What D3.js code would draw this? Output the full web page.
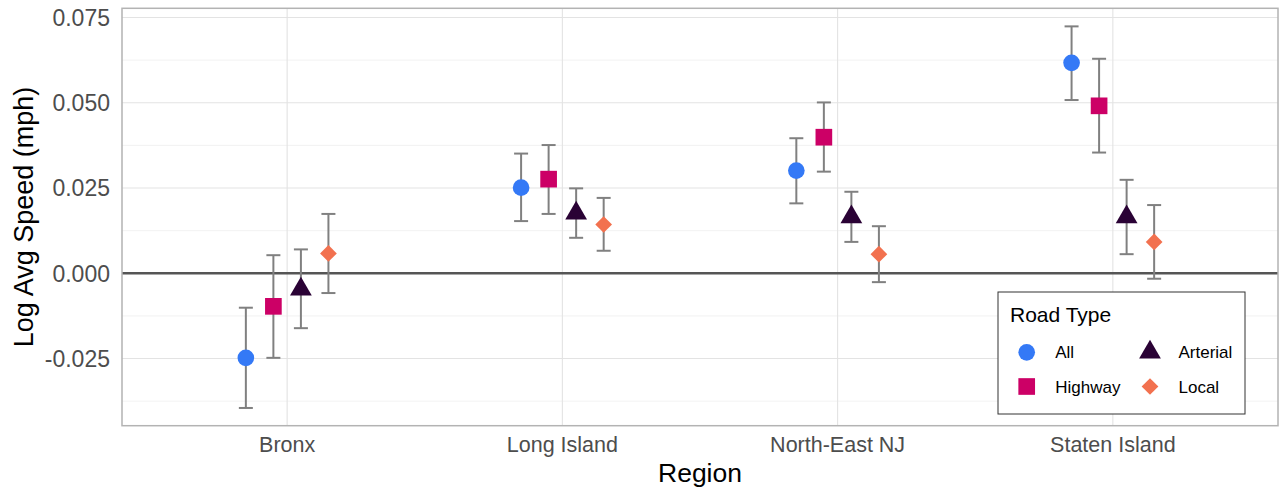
<!DOCTYPE html>
<html>
<head>
<meta charset="utf-8">
<script src="https://cdn.jsdelivr.net/npm/d3@7"></script>
<style>
  html, body { margin: 0; padding: 0; background: #fff; }
  svg { display: block; font-family: "Liberation Sans", Arial, Helvetica, sans-serif; }
</style>
</head>
<body>
<svg id="chart" width="1281" height="488"></svg>
<script>
// ---- data ----
const regions = ["Bronx", "Long Island", "North-East NJ", "Staten Island"];
const roadTypes = ["All", "Highway", "Arterial", "Local"];
const estAll      = [-0.0248, 0.0251, 0.0301, 0.0617];
const lowAll      = [-0.0395, 0.0153, 0.0205, 0.0508];
const highAll     = [-0.0101, 0.0351, 0.0396, 0.0724];
const estHighway  = [-0.0097, 0.0276, 0.0399, 0.0491];
const lowHighway  = [-0.0248, 0.0174, 0.0298, 0.0354];
const highHighway = [0.0053, 0.0376, 0.0501, 0.0629];
const estArterial  = [-0.0047, 0.0176, 0.0165, 0.0165];
const lowArterial  = [-0.0161, 0.0104, 0.0092, 0.0056];
const highArterial = [0.0070, 0.0249, 0.0239, 0.0274];
const estLocal  = [0.0058, 0.0143, 0.0056, 0.0092];
const lowLocal  = [-0.0058, 0.0066, -0.0026, -0.0016];
const highLocal = [0.0174, 0.0221, 0.0138, 0.0200];
const yTicks = [-0.025, 0, 0.025, 0.05, 0.075];
const yTickLabels = ["-0.025", "0.000", "0.025", "0.050", "0.075"];
const yMinorTicks = [-0.0375, -0.0125, 0.0125, 0.0375, 0.0625];
const colors = ["#3479F6", "#CC0066", "#2A0235", "#F2714F"];

const series = [
  {type: roadTypes[0], est: estAll, lo: lowAll, hi: highAll},
  {type: roadTypes[1], est: estHighway, lo: lowHighway, hi: highHighway},
  {type: roadTypes[2], est: estArterial, lo: lowArterial, hi: highArterial},
  {type: roadTypes[3], est: estLocal, lo: lowLocal, hi: highLocal}
];
const rows = [];
series.forEach((s, si) => regions.forEach((r, ri) => rows.push({region: r, type: s.type, si, est: s.est[ri], lo: s.lo[ri], hi: s.hi[ri]})));

// ---- layout ----
const svg = d3.select("#chart");
const pL = 122, pR = 1278, pT = 8.3, pB = 425.7;

const x = d3.scalePoint().domain(regions).range([pL, pR]).padding(0.6);
const y = d3.scaleLinear().domain([-0.0447, 0.0777]).range([pB, pT]);
const dodge = d3.scalePoint().domain(roadTypes).range([-0.15, 0.15]);
const color = d3.scaleOrdinal().domain(roadTypes).range(colors);
const px = d => x(d.region) + dodge(d.type) * x.step();

const diamond = { draw(ctx, size) { const r = Math.sqrt(size / 2); ctx.moveTo(0, -r); ctx.lineTo(r, 0); ctx.lineTo(0, r); ctx.lineTo(-r, 0); ctx.closePath(); } };
const shapeOf = d3.scaleOrdinal().domain(roadTypes).range([d3.symbolCircle, d3.symbolSquare, d3.symbolTriangle, diamond]);
const sizeOf = d3.scaleOrdinal().domain(roadTypes).range([218, 278, 205, 140]);
const sym = t => d3.symbol().type(shapeOf(t)).size(sizeOf(t))();

// grid
const g = svg.append("g");
g.selectAll(".minor").data(yMinorTicks).join("line")
  .attr("x1", pL).attr("x2", pR).attr("y1", d => y(d)).attr("y2", d => y(d))
  .attr("stroke", "#EFEFEF").attr("stroke-width", 0.8);
g.selectAll(".major").data(yTicks).join("line")
  .attr("x1", pL).attr("x2", pR).attr("y1", d => y(d)).attr("y2", d => y(d))
  .attr("stroke", "#E3E3E3").attr("stroke-width", 1.1);
g.selectAll(".vmajor").data(regions).join("line")
  .attr("x1", d => x(d)).attr("x2", d => x(d)).attr("y1", pT).attr("y2", pB)
  .attr("stroke", "#E3E3E3").attr("stroke-width", 1.1);

// zero line
svg.append("line").attr("x1", pL).attr("x2", pR).attr("y1", y(0)).attr("y2", y(0))
  .attr("stroke", "#555555").attr("stroke-width", 2.4);

// error bars
const eb = svg.append("g").attr("stroke", "#808080").attr("stroke-width", 2).attr("fill", "none");
const cap = 7;
rows.forEach(d => {
  const cx = px(d);
  eb.append("line").attr("x1", cx).attr("x2", cx).attr("y1", y(d.lo)).attr("y2", y(d.hi));
  eb.append("line").attr("x1", cx - cap).attr("x2", cx + cap).attr("y1", y(d.lo)).attr("y2", y(d.lo));
  eb.append("line").attr("x1", cx - cap).attr("x2", cx + cap).attr("y1", y(d.hi)).attr("y2", y(d.hi));
});

// points
svg.append("g").selectAll("path").data(rows).join("path")
  .attr("d", d => sym(d.type))
  .attr("transform", d => `translate(${px(d)},${y(d.est)})`)
  .attr("fill", d => color(d.type));

// panel border
svg.append("rect").attr("x", pL).attr("y", pT).attr("width", pR - pL).attr("height", pB - pT)
  .attr("fill", "none").attr("stroke", "#B3B3B3").attr("stroke-width", 1.5);

// y tick labels
svg.append("g").selectAll("text").data(yTicks).join("text")
  .attr("x", 110).attr("y", d => y(d)).attr("dy", "0.36em")
  .attr("text-anchor", "end").attr("fill", "#4D4D4D").attr("font-size", 23)
  .text((d, i) => yTickLabels[i]);

// x tick labels
svg.append("g").selectAll("text").data(regions).join("text")
  .attr("x", d => x(d)).attr("y", 452.3)
  .attr("text-anchor", "middle").attr("fill", "#4D4D4D").attr("font-size", 21.5)
  .text(d => d);

// axis titles
svg.append("text").attr("x", (pL + pR) / 2).attr("y", 481.5).attr("text-anchor", "middle")
  .attr("font-size", 26.5).attr("fill", "#000").text("Region");
svg.append("text").attr("transform", `translate(33,${(pT + pB) / 2}) rotate(-90)`)
  .attr("text-anchor", "middle").attr("font-size", 27).attr("fill", "#000").text("Log Avg Speed (mph)");

// legend
const lg = svg.append("g");
lg.append("rect").attr("x", 998).attr("y", 292).attr("width", 247).attr("height", 122)
  .attr("fill", "#fff").attr("stroke", "#333333").attr("stroke-width", 1);
lg.append("text").attr("x", 1010).attr("y", 322).attr("font-size", 21).attr("fill", "#000").text("Road Type");
const legPos = [[1026.7, 352.3], [1026.7, 386.5], [1150, 352.3], [1150, 386.5]];
roadTypes.forEach((t, i) => {
  const [lx, ly] = legPos[i];
  lg.append("path").attr("d", sym(t)).attr("transform", `translate(${lx},${ly})`).attr("fill", color(t));
  lg.append("text").attr("x", lx + 28.5).attr("y", ly + 6).attr("font-size", 17).attr("fill", "#000").text(t);
});
</script>
</body>
</html>
